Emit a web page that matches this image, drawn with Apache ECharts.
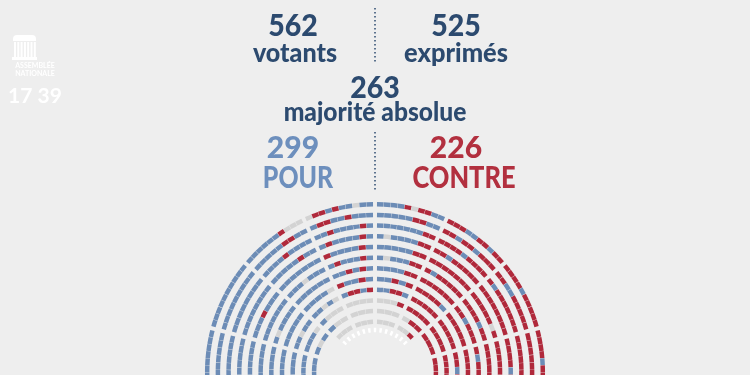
<!DOCTYPE html>
<html>
<head>
<meta charset="utf-8">
<script src="https://cdn.jsdelivr.net/npm/echarts@6/dist/echarts.min.js"></script>
<style>
html, body { margin: 0; padding: 0; background: #eeeeee; }
#chart { width: 750px; height: 375px; }
</style>
</head>
<body>
<div id="chart"></div>
<script>
// résultats du scrutin
const votants = 562
const exprimes = 525
const majorite = 263
const pour = 299
const contre = 226
const heure = '17 39'

// bords des secteurs de gauche à droite (degrés, 0 = droite)
const sectorEdges = [188, 165, 140, 115, 90, 65, 40, 15, -8]
// rangées de l'intérieur vers l'extérieur, secteurs séparés par |
// b = pour, r = contre, g = abstention
const rows = [
    '||ggg|ggg|ggg|ggr||',
    'bbb|bgb|bgg|ggg|ggg|grr|rrr|rrr',
    'bbbb|bbbg|bggg|gggg|gggr|rrrr|rrrr|rrrr',
    'bbbb|bbgbb|bbgbg|brrbr|bbrrb|rrrrr|rrrrr|rrbr',
    'bbbbb|bbbbb|bbbbg|rbbrb|bbrbr|rrrrb|rrrrr|rrrrr',
    'bbbbb|bgbbbb|bbbbbb|bbrbrb|bbbbrr|rrrrrr|rrbrrr|rbrrr',
    'bbbbbb|bbbbbbb|bbbgbbb|brbbbrb|bgbbbrr|rbrrrrr|rrrrbrr|rrrrrr',
    'bbbbbbb|bbbrbbb|bbbbbbb|rbbbbrb|bbbbbrr|rrrrrrr|rrrrrgr|rrrrrrr',
    'bbbbbbb|bbbbbbbb|bbbbbrbb|brbbbbrb|bgbbbbrr|rrbrrrrr|rrrrrrrr|rrrrbrr',
    'bbbbbbbb|bbbbbbbb|bbbbrbbbb|bbrbbbbrb|bbbbbbbrr|rrrrbrrrr|rbrrrrrrr|rrrrrrrr',
    'bbbbbbbb|bbbbbbbbb|bbbbbrrbb|brrbbrbbb|bbbbbrrbb|rrbrrbrrr|rrbbrrrrr|rrrrrrrr',
    'bbbbbbbbb|bbbbbbbbbb|bbbbbbrggg|grrbrbbgbb|bbbbrgrrbb|rrrbbrrbrr|rrrrbrrrrr|rrrrbrrrr'
]
// rangée intérieure en pointillés (non-votants)
const innerRow = 'wwwwwwwwwwwww'
const innerEdges = [140, 40]

const codes = ['b', 'r', 'g', 'w']
const seatColors = ['#6c8cb6', '#b0293b', '#d3d3d3', '#ffffff']

const firstRow = 4.7   // rayon de la 1re rangée (unités de l'axe)
const rowStep = 1
const innerRadius = 3.93
const seatHalf = 0.21
const aisleHalf = 0.17
const seatPad = 0.015
const dashPad = 0.15

const seatData = []
function addSeats (seg, rv, from, to, pad) {
    const w = (from - to) / seg.length
    for (let i = 0; i < seg.length; i++) {
        seatData.push([rv, from - i * w, from - (i + 1) * w, codes.indexOf(seg[i]), pad])
    }
}
rows.forEach((row, k) => {
    const rv = firstRow + k * rowStep
    const aisle = aisleHalf / rv * 180 / Math.PI
    row.split('|').forEach((seg, s) => {
        if (!seg.length) return
        addSeats(seg, rv, sectorEdges[s] - aisle, sectorEdges[s + 1] + aisle, seatPad)
    })
})
addSeats(innerRow, innerRadius, innerEdges[0], innerEdges[1], dashPad)

function normAngle (a) {
    return a > Math.PI / 2 ? a - Math.PI * 2 : a
}

function renderSeat (params, api) {
    const cs = params.coordSys
    const rv = api.value(0)
    const pIn = api.coord([rv - seatHalf, api.value(1)])
    const pOut = api.coord([rv + seatHalf, api.value(1)])
    const pEnd = api.coord([rv, api.value(2)])
    const r0 = Math.hypot(pIn[0] - cs.cx, pIn[1] - cs.cy)
    const r = Math.hypot(pOut[0] - cs.cx, pOut[1] - cs.cy)
    const a0 = normAngle(Math.atan2(pIn[1] - cs.cy, pIn[0] - cs.cx))
    const a1 = normAngle(Math.atan2(pEnd[1] - cs.cy, pEnd[0] - cs.cx))
    const pad = api.value(4) / rv
    return {
        type: 'sector',
        shape: { cx: cs.cx, cy: cs.cy, r0: r0, r: r, startAngle: a0 + pad, endAngle: a1 - pad, clockwise: true },
        style: { fill: seatColors[api.value(3)] }
    }
}

const navy = '#2c4a6f'
const bleu = '#6d8fbd'
const rouge = '#b2303f'
const fontFamily = 'Lato, "Open Sans", sans-serif'

function label (text, x, y, size, color, weight, sx) {
    return {
        type: 'text', x: x, y: y, scaleX: sx || 1,
        style: {
            text: text, fill: color,
            font: (weight || 900) + ' ' + size + 'px ' + fontFamily,
            textAlign: 'center', textVerticalAlign: 'middle',
            align: 'center', verticalAlign: 'middle'
        }
    }
}

function dotted (x, y1, y2) {
    return {
        type: 'line',
        shape: { x1: x, y1: y1, x2: x, y2: y2 },
        style: { stroke: navy, lineWidth: 1.5, lineDash: [1.5, 2.5] }
    }
}

// logo Assemblée nationale
const logo = [
    { type: 'rect', shape: { x: 13, y: 35, width: 23, height: 6, r: [4, 4, 0, 0] }, style: { fill: '#ffffff' } },
    { type: 'rect', shape: { x: 12, y: 57, width: 25, height: 3 }, style: { fill: '#ffffff' } }
]
for (let i = 0; i < 7; i++) {
    logo.push({ type: 'rect', shape: { x: 14 + i * 3.3, y: 42, width: 2, height: 15 }, style: { fill: '#ffffff' } })
}
logo.push(label('ASSEMBLÉE', 35, 66, 7, '#ffffff', 700))
logo.push(label('NATIONALE', 35, 74, 7, '#ffffff', 700))
logo.push({
    type: 'text', x: 8, y: 96,
    style: { text: heure, fill: '#ffffff', font: '700 21px ' + fontFamily, textVerticalAlign: 'middle', verticalAlign: 'middle' }
})

const chart = echarts.init(document.getElementById('chart'))
const option = {
    backgroundColor: '#eeeeee',
    animation: false,
    polar: { center: [375, 372], radius: 171 },
    angleAxis: { show: false, type: 'value', min: 0, max: 360, startAngle: 0, clockwise: false },
    radiusAxis: { show: false, type: 'value', min: 0, max: 16 },
    graphic: logo.concat([
        label(String(votants), 293, 26, 30, navy, 900, 0.95),
        label('votants', 295, 53, 27, navy, 900, 0.93),
        label(String(exprimes), 456, 26, 30, navy, 900, 0.95),
        label('exprimés', 456, 53, 27, navy, 900, 0.94),
        label(String(majorite), 375, 88, 30, navy, 900, 0.95),
        label('majorité absolue', 375, 112, 27, navy, 900, 0.91),
        label(String(pour), 293, 148, 31, bleu, 900, 0.97),
        label('POUR', 298, 178, 31, bleu, 900, 0.8),
        label(String(contre), 456, 148, 31, rouge, 900, 0.97),
        label('CONTRE', 464, 178, 31, rouge, 900, 0.82),
        dotted(375, 8, 64),
        dotted(375, 132, 190)
    ]),
    series: [{
        type: 'custom',
        coordinateSystem: 'polar',
        silent: true,
        renderItem: renderSeat,
        data: seatData
    }]
}
chart.setOption(option)
</script>
</body>
</html>
